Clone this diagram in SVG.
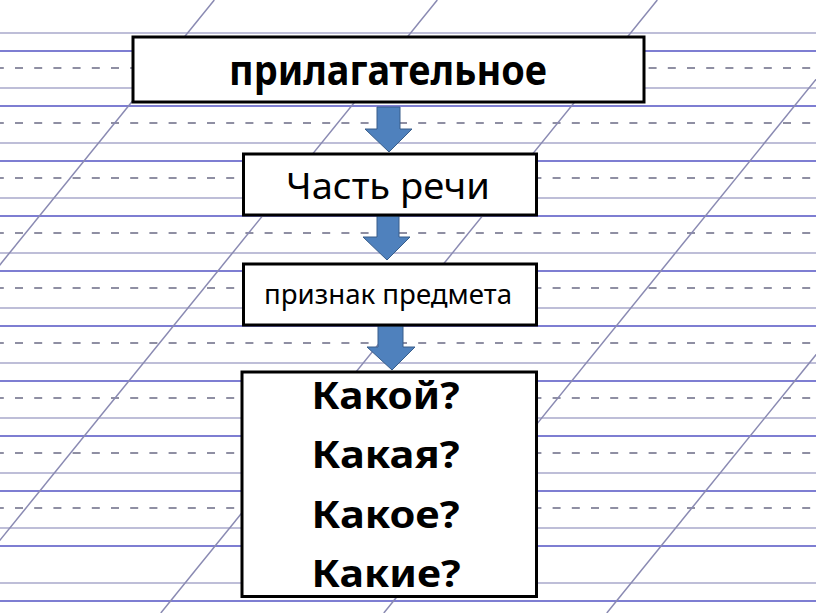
<svg xmlns="http://www.w3.org/2000/svg" width="816" height="613" viewBox="0 0 816 613">
<style>
.g{stroke:#a9a9cb;stroke-width:1.5}
.p{stroke:#7e7ed2;stroke-width:2}
.d{stroke:#8f8fa3;stroke-width:2;stroke-dasharray:8 11.2;stroke-dashoffset:4.2}
.diag{stroke:#8a8ab2;stroke-width:1.5}
.box{fill:#fff;stroke:#000;stroke-width:3}
.arr{fill:#4f81bd;stroke:#385d8a;stroke-width:1}
.t{font-family:"Noto Sans","Open Sans","DejaVu Sans",sans-serif;fill:#000;text-anchor:middle}
.b{font-weight:bold}
</style>
<rect width="816" height="613" fill="#fff"/>
<g id="paper">
<g id="lines-grey">
<line class="g" x1="0" y1="33" x2="816" y2="33"/>
<line class="g" x1="0" y1="88" x2="816" y2="88"/>
<line class="g" x1="0" y1="143" x2="816" y2="143"/>
<line class="g" x1="0" y1="198" x2="816" y2="198"/>
<line class="g" x1="0" y1="253" x2="816" y2="253"/>
<line class="g" x1="0" y1="308" x2="816" y2="308"/>
<line class="g" x1="0" y1="363" x2="816" y2="363"/>
<line class="g" x1="0" y1="418" x2="816" y2="418"/>
<line class="g" x1="0" y1="473" x2="816" y2="473"/>
<line class="g" x1="0" y1="528" x2="816" y2="528"/>
<line class="g" x1="0" y1="583" x2="816" y2="583"/>
</g>
<g id="lines-purple">
<line class="p" x1="0" y1="51" x2="816" y2="51"/>
<line class="p" x1="0" y1="106" x2="816" y2="106"/>
<line class="p" x1="0" y1="161" x2="816" y2="161"/>
<line class="p" x1="0" y1="216" x2="816" y2="216"/>
<line class="p" x1="0" y1="271" x2="816" y2="271"/>
<line class="p" x1="0" y1="326" x2="816" y2="326"/>
<line class="p" x1="0" y1="381" x2="816" y2="381"/>
<line class="p" x1="0" y1="436" x2="816" y2="436"/>
<line class="p" x1="0" y1="491" x2="816" y2="491"/>
<line class="p" x1="0" y1="546" x2="816" y2="546"/>
<line class="p" x1="0" y1="601" x2="816" y2="601"/>
</g>
<g id="lines-dashed">
<line class="d" x1="0" y1="68" x2="816" y2="68"/>
<line class="d" x1="0" y1="123" x2="816" y2="123"/>
<line class="d" x1="0" y1="178" x2="816" y2="178"/>
<line class="d" x1="0" y1="233" x2="816" y2="233"/>
<line class="d" x1="0" y1="288" x2="816" y2="288"/>
<line class="d" x1="0" y1="343" x2="816" y2="343"/>
<line class="d" x1="0" y1="398" x2="816" y2="398"/>
<line class="d" x1="0" y1="453" x2="816" y2="453"/>
<line class="d" x1="0" y1="508" x2="816" y2="508"/>
</g>
<g id="diagonals">
<line class="diag" x1="214.3" y1="0" x2="-282" y2="613"/>
<line class="diag" x1="437.3" y1="0" x2="-59" y2="613"/>
<line class="diag" x1="657.3" y1="0" x2="160.8" y2="613"/>
<line class="diag" x1="880.3" y1="0" x2="383.8" y2="613"/>
<line class="diag" x1="1103.3" y1="0" x2="606.8" y2="613"/>
</g>
</g>
<g id="connectors">
<polygon class="arr" points="377,107 400,107 400,129 412,129 389,152 365,129 377,129"/>
<polygon class="arr" points="377,216 399,216 399,237 410,237 387,260 363,237 377,237"/>
<polygon class="arr" points="378,326 403,326 403,347 415,347 392,370 367,347 378,347"/>
</g>
<g id="node-adjective">
<rect class="box" x="133" y="37" width="511" height="65"/>
<text class="t b" x="388" y="85" font-size="42" textLength="318" lengthAdjust="spacingAndGlyphs">прилагательное</text>
</g>
<g id="node-part-of-speech">
<rect class="box" x="243.5" y="154" width="293" height="61"/>
<text class="t" x="388" y="199" font-size="37" textLength="204" lengthAdjust="spacingAndGlyphs">Часть речи</text>
</g>
<g id="node-feature">
<rect class="box" x="243.5" y="264" width="293" height="61"/>
<text class="t" x="388" y="304" font-size="27" textLength="248" lengthAdjust="spacingAndGlyphs">признак предмета</text>
</g>
<g id="node-questions">
<rect class="box" x="242" y="372" width="294.5" height="224.5"/>
<text class="t b" x="385.5" y="409" font-size="38" textLength="148" lengthAdjust="spacingAndGlyphs">Какой?</text>
<text class="t b" x="385.5" y="468" font-size="38" textLength="148" lengthAdjust="spacingAndGlyphs">Какая?</text>
<text class="t b" x="385.5" y="527.5" font-size="38" textLength="148" lengthAdjust="spacingAndGlyphs">Какое?</text>
<text class="t b" x="386" y="587" font-size="38" textLength="149" lengthAdjust="spacingAndGlyphs">Какие?</text>
</g>
</svg>
